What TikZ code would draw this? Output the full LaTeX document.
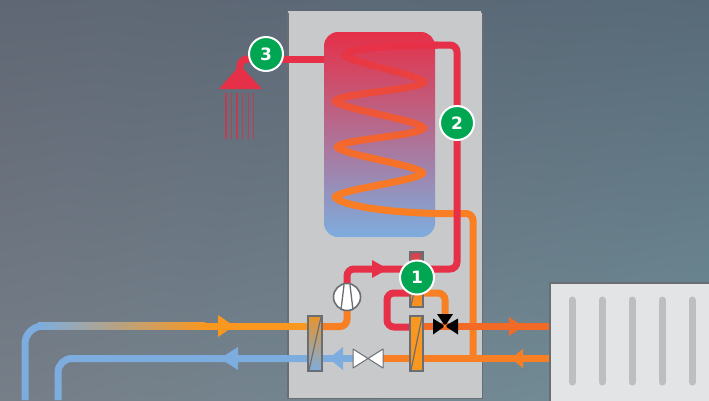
\documentclass[tikz,border=0pt]{standalone}
\usepackage{fontspec}
\setmainfont{DejaVu Sans}
\usetikzlibrary{shadings}
\definecolor{bgUL}{RGB}{96,103,116}
\definecolor{bgUR}{RGB}{88,106,120}
\definecolor{bgLL}{RGB}{118,126,136}
\definecolor{bgLR}{RGB}{112,142,152}
\definecolor{panelc}{RGB}{200,201,203}
\definecolor{edgec}{RGB}{106,110,115}
\definecolor{redp}{RGB}{230,48,72}
\definecolor{orangep}{RGB}{249,127,36}
\definecolor{amberp}{RGB}{249,151,30}
\definecolor{bluep}{RGB}{125,173,222}
\definecolor{hotp}{RGB}{242,106,37}
\definecolor{greenb}{RGB}{0,166,81}
\definecolor{slotc}{RGB}{189,190,192}
\definecolor{radc}{RGB}{227,228,230}
\definecolor{showerc}{RGB}{190,60,84}
\definecolor{midt}{RGB}{188,118,135}
\tikzset{
  pipe/.style={line width=7pt,rounded corners=7pt,line cap=butt},
  badge/.style={circle,fill=greenb,draw=white,line width=2pt,minimum size=34pt,inner sep=0pt,text=white,font=\fontsize{17}{17}\selectfont\bfseries},
  hxbox/.style={draw=edgec,line width=2pt},
  hxdiag/.style={draw=edgec,line width=1.2pt},
  slot/.style={line width=7pt,line cap=round,slotc},
  spray/.style={line width=1.3pt,showerc},
  coilpiece/.style={line width=7pt,line cap=round}
}
\newcommand{\coilbez}[8]{\def\cxa{#1}\def\cya{#2}\def\cxb{#3}\def\cyb{#4}\def\cxc{#5}\def\cyc{#6}\def\cxd{#7}\def\cyd{#8}\coilrun}
\newcommand{\coilrun}[2]{%
  \foreach \ci in {1,...,20}{%
    \pgfmathsetmacro{\ta}{(\ci-1)/20}\pgfmathsetmacro{\tb}{\ci/20}%
    \pgfmathsetmacro{\pxa}{(1-\ta)^3*\cxa+3*(1-\ta)^2*\ta*\cxb+3*(1-\ta)*\ta^2*\cxc+\ta^3*\cxd}%
    \pgfmathsetmacro{\pya}{(1-\ta)^3*\cya+3*(1-\ta)^2*\ta*\cyb+3*(1-\ta)*\ta^2*\cyc+\ta^3*\cyd}%
    \pgfmathsetmacro{\pxb}{(1-\tb)^3*\cxa+3*(1-\tb)^2*\tb*\cxb+3*(1-\tb)*\tb^2*\cxc+\tb^3*\cxd}%
    \pgfmathsetmacro{\pyb}{(1-\tb)^3*\cya+3*(1-\tb)^2*\tb*\cyb+3*(1-\tb)*\tb^2*\cyc+\tb^3*\cyd}%
    \pgfmathsetmacro{\mixv}{#1+(#2-#1)*\tb}%
    \draw[coilpiece,orangep!\mixv!redp] (\pxa,\pya) -- (\pxb,\pyb);
  }%
}
\begin{document}
\begin{tikzpicture}[x=1pt,y=-1pt]
\useasboundingbox (0,0) rectangle (709,400);
% background
\shade[upper left=bgUL,upper right=bgUR,lower left=bgLL,lower right=bgLR] (0,0) rectangle (709,400);
% housing
\path[fill=panelc,draw=edgec,line width=1.5pt] (288,12) rectangle (482.5,398.5);
\fill[panelc] (287.5,11) rectangle (481,13);
% pipes at the far left
\draw[pipe,bluep,rounded corners=18pt] (25,400) -- (25,326) -- (46,326);
\shade[left color=bluep,right color=amberp] (38,322.5) rectangle (205,329.5);
\draw[pipe,amberp] (204,326) -- (310,326);
\draw[pipe,bluep,rounded corners=14pt] (58,400) -- (58,358.5) -- (310,358.5);
\fill[amberp] (218,315) -- (234,326) -- (218,337) -- cycle;
\fill[bluep] (238,347) -- (220,358.5) -- (238,370) -- cycle;
% tank
\begin{scope}
\clip[rounded corners=14pt] (324,32) rectangle (435,237);
\shade[top color=redp,middle color=midt,bottom color=bluep] (324,32) rectangle (435,237);
\end{scope}
% coil
\coilbez{437}{45}{400}{45.5}{348}{47}{345}{55}{0}{5}
\coilbez{345}{55}{351}{63}{418}{74}{424}{82}{5}{25}
\coilbez{424}{82}{418}{90}{341}{93}{335}{101}{25}{40}
\coilbez{335}{101}{341}{109}{418}{120}{424}{128}{40}{58}
\coilbez{424}{128}{418}{136}{343}{139}{337}{147}{58}{72}
\coilbez{337}{147}{343}{155}{417}{165}{423}{173}{72}{88}
\coilbez{423}{173}{417}{181}{341}{189}{335}{197}{88}{96}
\coilbez{335}{197}{341}{206}{390}{212.5}{437}{213.5}{96}{100}
% orange return from coil
\coordinate (junction) at (473,358.5);
\draw[pipe,orangep] (436,213.5) -- (473,213.5) -- (junction);
% lines through the centre exchanger
\draw[pipe,orangep] (423,358.5) -- (549,358.5);
\draw[pipe,orangep] (380,358.5) -- (412,358.5);
% refrigerant line (red)
\coordinate (b1pos) at (417,277.5);
\coordinate (redjoin) at (417,269);
\draw[pipe,redp] (435,45) -- (457,45) -- (457,269) -- (redjoin);
\draw[pipe,redp] (347,297) -- (347,269) -- (redjoin);
\draw[pipe,redp] (415,327) -- (387,327) -- (387,293) -- (420,293);
\draw[pipe,orangep] (418,293) -- (445,293) -- (445,320);
\fill[redp] (372,260) -- (388,269) -- (372,278) -- cycle;
% compressor outlet
\draw[pipe,orangep] (347,305) -- (347,326.5) -- (318,326.5);
\draw[pipe,hotp] (420,326.5) -- (549,326.5);
\fill[hotp] (509,317) -- (523,326.5) -- (509,336) -- cycle;
\fill[orangep] (523,349) -- (511,358.5) -- (523,368) -- cycle;
% blue after expansion
\draw[pipe,bluep] (318,358.5) -- (355,358.5);
\fill[bluep] (343,347) -- (329,358.5) -- (343,370) -- cycle;
% exchangers
\shade[top color=amberp!85!gray,bottom color=bluep,hxbox] (308,316) rectangle (322,371);
\draw[hxdiag] (309,370) -- (321,317);
\path[fill=amberp,hxbox] (410,316) rectangle (423,371);
\draw[hxdiag] (411,370) -- (422,317);
\shade[top color=redp!80!gray,bottom color=amberp,middle color=hotp,hxbox] (410,252) rectangle (423,307);
\draw[hxdiag] (411,306) -- (422,253);
% compressor
\node[circle,draw=edgec,fill=white,line width=1.6pt,minimum size=27pt,inner sep=0pt] (comp) at (347,297) {};
\draw[edgec,line width=1.3pt] (341,310) -- (344,285) (353,310) -- (350,285);
% expansion valve
\coordinate (ev) at (368,358.5);
\draw[edgec,fill=white,line width=1pt,line join=round] (ev) -- (353,349) -- (353,368) -- cycle;
\draw[edgec,fill=white,line width=1pt,line join=round] (ev) -- (383,349) -- (383,368) -- cycle;
% three-way valve
\coordinate (tv) at (445,326);
\fill[black] (tv) -- (433,318.5) -- (433,334.5) -- cycle;
\fill[black] (tv) -- (458,318.5) -- (458,334.5) -- cycle;
\fill[black] (tv) -- (437,314) -- (453,314) -- cycle;
\fill[orangep] (tv) circle (1.8pt);
% radiator
\path[fill=radc,draw=edgec,line width=2pt] (549.5,283) rectangle (711,402);
\foreach \sx in {572,602,632,662,692} \draw[slot] (\sx,300) -- (\sx,382);
% shower
\coordinate (showerhead) at (240,68);
\coordinate (b3pos) at (266,54);
\draw[pipe,redp,rounded corners=8pt] (260,59) -- (239.5,59) -- (showerhead);
\fill[redp] (240,65) -- (262,89) -- (219,89) -- cycle;
\foreach \sx in {226,231.7,237,242.7,248.3,253.7} \draw[spray] (\sx,93) -- (\sx,139);
\draw[pipe,redp] (266,59) -- (324,59);
% badges on top
\node[badge] (b3) at (b3pos) {3};
\node[badge] (b2) at (457,123) {2};
\node[badge] (b1) at (b1pos) {1};
\end{tikzpicture}
\end{document}
